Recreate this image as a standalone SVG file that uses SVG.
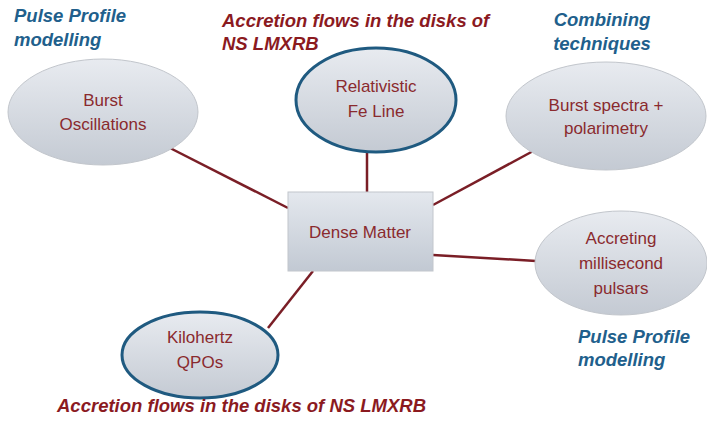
<svg xmlns="http://www.w3.org/2000/svg" width="707" height="441" viewBox="0 0 707 441">
<style>
.lbl{font-family:"Liberation Sans",Arial,sans-serif;font-size:17px;fill:#8a2a2e;text-anchor:middle}
.blue{font-family:"Liberation Sans",Arial,sans-serif;font-size:18.5px;font-weight:bold;font-style:italic;fill:#215f8c}
.red{font-family:"Liberation Sans",Arial,sans-serif;font-size:18.5px;font-weight:bold;font-style:italic;fill:#8b1a1f}
.ell{fill:url(#g);stroke:#c2c6cc;stroke-width:1}
.ellb{fill:url(#g);stroke:#1f5a80;stroke-width:3}
.con line{stroke:#7a1e26;stroke-width:2.5}
</style>
<defs>
<linearGradient id="g" x1="0" y1="0" x2="0" y2="1">
<stop offset="0" stop-color="#e8ebf0"/>
<stop offset="1" stop-color="#c4cad3"/>
</linearGradient>
<linearGradient id="gr" x1="0" y1="0" x2="0" y2="1">
<stop offset="0" stop-color="#e4e8ee"/>
<stop offset="1" stop-color="#c2c9d3"/>
</linearGradient>
</defs>
<rect width="707" height="441" fill="#ffffff"/>
<g class="con" id="connectors">
<line x1="170" y1="148" x2="288" y2="208"/>
<line x1="367" y1="153" x2="367" y2="192"/>
<line x1="535" y1="150" x2="433" y2="205"/>
<line x1="433" y1="255" x2="536" y2="261"/>
<line x1="313" y1="271" x2="268" y2="328"/>
</g>
<g id="burst-osc">
<ellipse class="ell" cx="103" cy="112" rx="95" ry="53"/>
<text class="lbl" x="103" y="106">Burst</text>
<text class="lbl" x="103" y="130">Oscillations</text>
</g>
<g id="fe-line">
<ellipse class="ellb" cx="376" cy="100" rx="80" ry="52"/>
<text class="lbl" x="376" y="92">Relativistic</text>
<text class="lbl" x="376" y="117">Fe Line</text>
</g>
<g id="burst-spectra">
<ellipse class="ell" cx="606" cy="116" rx="100" ry="54"/>
<text class="lbl" x="606" y="111">Burst spectra +</text>
<text class="lbl" x="606" y="134">polarimetry</text>
</g>
<g id="dense-matter">
<rect x="288" y="192" width="145" height="79" fill="url(#gr)" stroke="#c2c6cc" stroke-width="1"/>
<text class="lbl" x="360" y="238">Dense Matter</text>
</g>
<g id="accreting">
<ellipse class="ell" cx="621" cy="263" rx="86" ry="52"/>
<text class="lbl" x="621" y="244">Accreting</text>
<text class="lbl" x="621" y="269">millisecond</text>
<text class="lbl" x="621" y="294">pulsars</text>
</g>
<g id="khz-qpo">
<ellipse class="ellb" cx="200" cy="355" rx="78" ry="43"/>
<text class="lbl" x="200" y="343">Kilohertz</text>
<text class="lbl" x="200" y="368">QPOs</text>
</g>
<g id="annotations">
<text class="blue" x="14" y="22">Pulse Profile</text>
<text class="blue" x="14" y="46">modelling</text>
<text class="red" x="222" y="27">Accretion flows in the disks of</text>
<text class="red" x="222" y="50">NS LMXRB</text>
<text class="blue" x="602" y="26" text-anchor="middle">Combining</text>
<text class="blue" x="602" y="50" text-anchor="middle">techniques</text>
<text class="blue" x="578" y="343">Pulse Profile</text>
<text class="blue" x="578" y="366">modelling</text>
<text class="red" x="57" y="412">Accretion flows in the disks of NS LMXRB</text>
</g>
</svg>
